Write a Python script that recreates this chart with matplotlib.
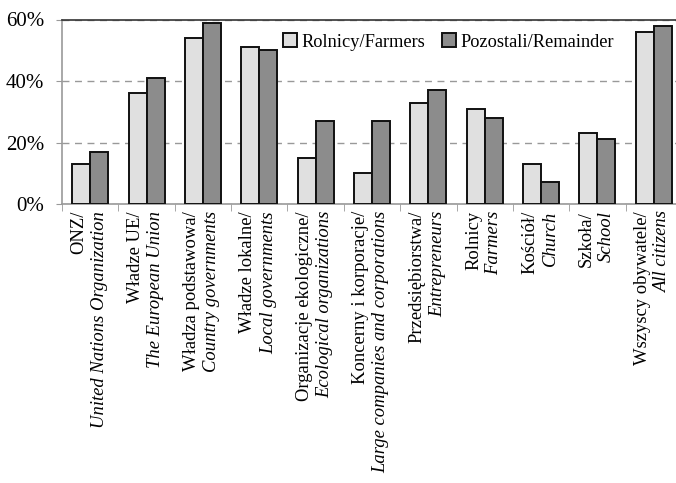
import matplotlib.pyplot as plt
import numpy as np

# dane z wykresu (%)
pl_labels = ['ONZ/', 'Władze UE/', 'Władza podstawowa/', 'Władze lokalne/',
             'Organizacje ekologiczne/', 'Koncerny i korporacje/', 'Przedsiębiorstwa/',
             'Rolnicy', 'Kościół/', 'Szkoła/', 'Wszyscy obywatele/']
en_labels = ['United Nations Organization', 'The European Union', 'Country governments',
             'Local governments', 'Ecological organizations',
             'Large companies and corporations', 'Entrepreneurs', 'Farmers',
             'Church', 'School', 'All citizens']
farmers = [13, 36, 54, 51, 15, 10, 33, 31, 13, 23, 56]
remainder = [17, 41, 59, 50, 27, 27, 37, 28, 7, 21, 58]

plt.rcParams['font.family'] = ['Liberation Serif', 'DejaVu Serif']

fig = plt.figure(figsize=(6.76, 4.83), dpi=100)
W, H = 676, 483
ax = fig.add_axes([62 / W, (H - 204) / H, 620 / W, 184.5 / H])

x = np.arange(len(farmers))
w = 0.32
ax.bar(x - w / 2, farmers, w, color='#e0e0e0', edgecolor='#111111', linewidth=1.4,
       label='Rolnicy/Farmers', zorder=3)
ax.bar(x + w / 2, remainder, w, color='#8c8c8c', edgecolor='#111111', linewidth=1.4,
       label='Pozostali/Remainder', zorder=3)

ax.set_xlim(-0.5, len(farmers) - 0.5)
ax.set_ylim(0, 60)
ax.set_yticks([0, 20, 40, 60])
ax.set_yticklabels(['0%', '20%', '40%', '60%'], fontsize=15)
ax.yaxis.grid(True, linestyle=(0, (5, 4)), color='#999999', linewidth=1)
ax.tick_params(axis='y', length=4, color='#999999', pad=9)

ax.set_xticks([])
ax.set_xticks(np.arange(len(farmers) + 1) - 0.5, minor=True)
ax.tick_params(axis='x', which='minor', length=5, color='#999999')

for s in ['left', 'bottom']:
    ax.spines[s].set_color('#999999')
    ax.spines[s].set_linewidth(1.2)
ax.spines['top'].set_color('#333333')
ax.spines['top'].set_linewidth(1.2)
ax.spines['right'].set_visible(False)

# podpisy osi X: polski + angielski kursywą
for i in range(len(pl_labels)):
    ax.text(i - 0.2, -2.3, pl_labels[i], rotation=90, ha='center', va='top',
            fontsize=13.4, zorder=4)
    ax.text(i + 0.16, -2.3, en_labels[i], rotation=90, ha='center', va='top',
            fontsize=13.4, style='italic', zorder=4)

ax.legend(loc='center left', bbox_to_anchor=(276 / W, 1 - 42 / H),
          bbox_transform=fig.transFigure, ncol=2, frameon=False, fontsize=13.2,
          handlelength=0.75, handleheight=0.75, handletextpad=0.25, columnspacing=0.9,
          borderaxespad=0)

fig.savefig('out.png', dpi=100)
